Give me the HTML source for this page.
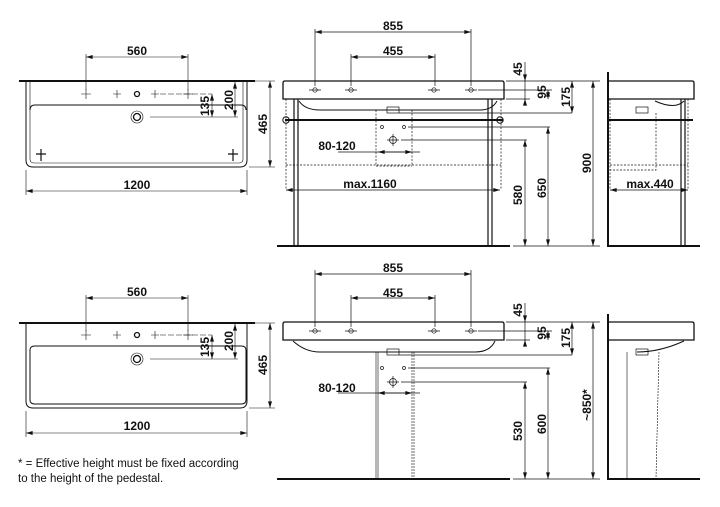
<!DOCTYPE html>
<html><head><meta charset="utf-8"><style>
html,body{margin:0;padding:0;background:#fff;}
svg{display:block;}
text{font-family:"Liberation Sans Narrow","Liberation Sans",sans-serif;font-weight:bold;font-size:12px;fill:#111;}
.t{font-family:"Liberation Sans",sans-serif;font-weight:normal;font-size:11.5px;}
</style></head><body>
<svg width="720" height="507" viewBox="0 0 720 507" xmlns="http://www.w3.org/2000/svg">
<defs>
<marker id="a" viewBox="0 0 10 6" refX="10" refY="3" markerWidth="8" markerHeight="4" orient="auto-start-reverse" markerUnits="userSpaceOnUse"><path d="M0,0L10,3L0,6z" fill="#111"/></marker>
</defs>
<g fill="none" stroke="#111" stroke-width="1">
<line x1="19" y1="81" x2="255" y2="81" stroke-width="2"/>
<path d="M26,82V160Q26,167 33,167H240Q247,167 247,160V82"/>
<path d="M30,82V159Q30,163 34,163H239Q243,163 243,159V82" stroke-width="0.6"/>
<path d="M30,110Q30,105 35,105H241Q246,105 246,110"/>
<g stroke-width="0.6"><path d="M81,94h10M86,89v10M113,94h8M117,90v8M151,94h8M155,90v8M183,94h10M188,89v10"/><line x1="160" y1="94" x2="212" y2="94" stroke-dasharray="6,2"/></g>
<circle cx="137" cy="94" r="2.5" stroke-width="1.3"/>
<circle cx="137" cy="117" r="6" stroke-width="0.6"/><circle cx="137" cy="117" r="3.5" stroke-width="1.3"/>
<line x1="150" y1="117" x2="238" y2="117" stroke-width="0.6"/>
<path d="M36,154h10M41,149v12M228,154h10M233,149v12" stroke-width="1.2"/>
<g stroke-width="0.6">
<line x1="86" y1="54" x2="86" y2="90"/><line x1="188" y1="54" x2="188" y2="90"/>
<line x1="86" y1="57" x2="188" y2="57" marker-start="url(#a)" marker-end="url(#a)"/>
<line x1="212" y1="94" x2="212" y2="117" marker-start="url(#a)" marker-end="url(#a)"/>
<line x1="235" y1="82" x2="235" y2="117" marker-start="url(#a)" marker-end="url(#a)"/>
<line x1="249" y1="81" x2="275" y2="81"/><line x1="249" y1="167" x2="275" y2="167"/>
<line x1="270" y1="81" x2="270" y2="167" marker-start="url(#a)" marker-end="url(#a)"/>
<line x1="26" y1="170" x2="26" y2="195"/><line x1="247" y1="170" x2="247" y2="195"/>
<line x1="26" y1="191" x2="247" y2="191" marker-start="url(#a)" marker-end="url(#a)"/>
</g>

<line x1="19" y1="323" x2="255" y2="323" stroke-width="2"/>
<path d="M26,324V401Q26,408 33,408H240Q247,408 247,401V324"/>
<path d="M30,350Q30,346 35,346H241Q246,346 246,350V400Q246,404 241,404H35Q30,404 30,400Z"/>
<g stroke-width="0.6"><path d="M81,335h10M86,330v10M113,335h8M117,331v8M151,335h8M155,331v8M183,335h10M188,330v10"/><line x1="160" y1="335" x2="212" y2="335" stroke-dasharray="6,2"/></g>
<circle cx="137" cy="335" r="2.5" stroke-width="1.3"/>
<circle cx="137" cy="359" r="6" stroke-width="0.6"/><circle cx="137" cy="359" r="3.5" stroke-width="1.3"/>
<line x1="150" y1="359" x2="238" y2="359" stroke-width="0.6"/>
<g stroke-width="0.6">
<line x1="86" y1="295" x2="86" y2="331"/><line x1="188" y1="295" x2="188" y2="331"/>
<line x1="86" y1="298" x2="188" y2="298" marker-start="url(#a)" marker-end="url(#a)"/>
<line x1="212" y1="335" x2="212" y2="359" marker-start="url(#a)" marker-end="url(#a)"/>
<line x1="235" y1="324" x2="235" y2="359" marker-start="url(#a)" marker-end="url(#a)"/>
<line x1="249" y1="323" x2="275" y2="323"/><line x1="249" y1="408" x2="275" y2="408"/>
<line x1="270" y1="323" x2="270" y2="408" marker-start="url(#a)" marker-end="url(#a)"/>
<line x1="26" y1="411" x2="26" y2="437"/><line x1="247" y1="411" x2="247" y2="437"/>
<line x1="26" y1="433" x2="247" y2="433" marker-start="url(#a)" marker-end="url(#a)"/>
</g>

<path d="M285,81H502Q504,81 504,83V99H283V83Q283,81 285,81Z" stroke-width="1.3"/>
<path d="M299,101Q305,110 320,110H480Q492,110 497,101"/>
<g stroke-width="0.7">
<circle cx="315" cy="90" r="2.2"/><circle cx="351" cy="90" r="2.2"/><circle cx="434" cy="90" r="2.2"/><circle cx="471" cy="90" r="2.2"/>
<path d="M309,90h12M345,90h12M428,90h12M465,90h12"/>
<line x1="478" y1="90" x2="552" y2="90"/>
<line x1="315" y1="29" x2="315" y2="86"/><line x1="471" y1="29" x2="471" y2="86"/>
<line x1="315" y1="32" x2="471" y2="32" marker-start="url(#a)" marker-end="url(#a)"/>
<line x1="351" y1="54" x2="351" y2="86"/><line x1="435" y1="54" x2="435" y2="86"/>
<line x1="351" y1="57" x2="435" y2="57" marker-start="url(#a)" marker-end="url(#a)"/>
<path d="M286,99V190M501,99V190M286,165H501M376,110V166M412,110V166M376,166H412" stroke-dasharray="2,1.5"/>
<rect x="387" y="107" width="12" height="6"/>
<line x1="399" y1="113" x2="572" y2="113"/>
<circle cx="382" cy="127" r="1.5"/><circle cx="404" cy="127" r="1.5"/>
<line x1="408" y1="127" x2="550" y2="127"/>
<circle cx="393" cy="140" r="3.5"/><path d="M387,140h12M393,134v12"/>
<line x1="401" y1="140" x2="527" y2="140"/>
<line x1="338" y1="152" x2="420" y2="152"/><line x1="378" y1="152" x2="412" y2="152" marker-start="url(#a)" marker-end="url(#a)"/>
<line x1="286" y1="190" x2="500" y2="190" marker-start="url(#a)" marker-end="url(#a)"/>
</g>
<line x1="285" y1="120" x2="503" y2="120" stroke-width="2"/>
<circle cx="286" cy="120" r="3.2"/><circle cx="500" cy="120" r="3.2"/>
<path d="M294,99V245M298,99V245M488,99V245M492,99V245" stroke-width="1.2"/>
<line x1="277" y1="246" x2="510" y2="246" stroke-width="2"/>
<g stroke-width="0.7">
<line x1="506" y1="81" x2="600" y2="81"/><line x1="506" y1="99" x2="530" y2="99"/>
<line x1="525" y1="62" x2="525" y2="81" marker-end="url(#a)"/><line x1="525" y1="104" x2="525" y2="99" marker-end="url(#a)"/>
<line x1="525" y1="81" x2="525" y2="99"/>
<line x1="548" y1="90" x2="548" y2="99" marker-start="url(#a)" marker-end="url(#a)"/>
<line x1="572" y1="81" x2="572" y2="113" marker-start="url(#a)" marker-end="url(#a)"/>
<line x1="525" y1="140" x2="525" y2="246" marker-start="url(#a)" marker-end="url(#a)"/>
<line x1="548" y1="127" x2="548" y2="246" marker-start="url(#a)" marker-end="url(#a)"/>
<line x1="593" y1="81" x2="593" y2="246" marker-start="url(#a)" marker-end="url(#a)"/>
<line x1="513" y1="246" x2="600" y2="246"/>
</g>
<line x1="608" y1="72" x2="608" y2="246" stroke-width="2"/>
<line x1="607" y1="246" x2="700" y2="246" stroke-width="2"/>
<path d="M608,81H692Q694,81 694,83V99H608" stroke-width="1.3"/>
<path d="M655,101Q675,110 684,101"/><rect x="636" y="107" width="12" height="6" stroke-width="0.7"/>
<line x1="608" y1="120" x2="693" y2="120" stroke-width="2"/>
<path d="M681,99V245M685,99V245" stroke-width="1.2"/>
<g stroke-width="0.7"><path d="M610,99V190M688,99V190M610,165H688M656,113V170H610" stroke-dasharray="2,1.5"/>
<line x1="610" y1="190" x2="688" y2="190" marker-start="url(#a)" marker-end="url(#a)"/></g>

<path d="M285,322H502Q504,322 504,324V340H283V324Q283,322 285,322Z" stroke-width="1.3"/>
<path d="M293,341Q305,352 320,352H475Q490,352 495,341"/>
<g stroke-width="0.7">
<circle cx="315" cy="331" r="2.2"/><circle cx="351" cy="331" r="2.2"/><circle cx="434" cy="331" r="2.2"/><circle cx="471" cy="331" r="2.2"/>
<path d="M309,331h12M345,331h12M428,331h12M465,331h12"/>
<line x1="478" y1="331" x2="552" y2="331"/>
<line x1="315" y1="270" x2="315" y2="327"/><line x1="471" y1="270" x2="471" y2="327"/>
<line x1="315" y1="274" x2="471" y2="274" marker-start="url(#a)" marker-end="url(#a)"/>
<line x1="351" y1="295" x2="351" y2="327"/><line x1="435" y1="295" x2="435" y2="327"/>
<line x1="351" y1="298" x2="435" y2="298" marker-start="url(#a)" marker-end="url(#a)"/>
<rect x="387" y="349" width="12" height="6"/>
<line x1="399" y1="355" x2="572" y2="355"/>
<path d="M376,352V478M378,352V478" stroke-width="0.6"/>
<path d="M412,352V478M414,352V478" stroke-width="0.6" stroke-dasharray="2,1"/>
<circle cx="382" cy="368" r="1.5"/><circle cx="404" cy="368" r="1.5"/>
<line x1="408" y1="368" x2="550" y2="368"/>
<circle cx="393" cy="382" r="3.5"/><path d="M387,382h12M393,376v12"/>
<line x1="401" y1="382" x2="527" y2="382"/>
<line x1="338" y1="393" x2="420" y2="393"/><line x1="378" y1="393" x2="412" y2="393" marker-start="url(#a)" marker-end="url(#a)"/>
</g>
<line x1="277" y1="479" x2="510" y2="479" stroke-width="2"/>
<g stroke-width="0.7">
<line x1="506" y1="322" x2="600" y2="322"/><line x1="506" y1="340" x2="530" y2="340"/>
<line x1="525" y1="303" x2="525" y2="322" marker-end="url(#a)"/><line x1="525" y1="345" x2="525" y2="340" marker-end="url(#a)"/>
<line x1="525" y1="322" x2="525" y2="340"/>
<line x1="548" y1="331" x2="548" y2="340" marker-start="url(#a)" marker-end="url(#a)"/>
<line x1="572" y1="322" x2="572" y2="355" marker-start="url(#a)" marker-end="url(#a)"/>
<line x1="525" y1="382" x2="525" y2="479" marker-start="url(#a)" marker-end="url(#a)"/>
<line x1="548" y1="368" x2="548" y2="479" marker-start="url(#a)" marker-end="url(#a)"/>
<line x1="593" y1="322" x2="593" y2="479" marker-start="url(#a)" marker-end="url(#a)"/>
<line x1="513" y1="479" x2="600" y2="479"/>
</g>
<line x1="608" y1="314" x2="608" y2="479" stroke-width="2"/>
<line x1="607" y1="479" x2="700" y2="479" stroke-width="2"/>
<path d="M608,322H692Q694,322 694,324V340H608" stroke-width="1.3"/>
<path d="M637,352Q660,352 684,341"/><rect x="636" y="349" width="12" height="6" stroke-width="0.7"/>
<path d="M627,352V478" stroke-width="0.6"/>
<path d="M659,352L656,478" stroke-width="0.6" stroke-dasharray="2,1"/>
</g>

<text x="137" y="55" text-anchor="middle">560</text>
<text x="137" y="189" text-anchor="middle">1200</text>
<text transform="translate(209,106) rotate(-90)" text-anchor="middle">135</text>
<text transform="translate(233,100) rotate(-90)" text-anchor="middle">200</text>
<text transform="translate(267,124) rotate(-90)" text-anchor="middle">465</text>

<text x="137" y="296" text-anchor="middle">560</text>
<text x="137" y="430" text-anchor="middle">1200</text>
<text transform="translate(209,347) rotate(-90)" text-anchor="middle">135</text>
<text transform="translate(233,341) rotate(-90)" text-anchor="middle">200</text>
<text transform="translate(267,365) rotate(-90)" text-anchor="middle">465</text>
<text class="t" x="18" y="467">* = Effective height must be fixed according</text>
<text class="t" x="18" y="482">to the height of the pedestal.</text>

<text x="393" y="30" text-anchor="middle">855</text>
<text x="393" y="55" text-anchor="middle">455</text>
<text x="337" y="150" text-anchor="middle">80-120</text>
<text x="370" y="188" text-anchor="middle">max.1160</text>
<text x="650" y="188" text-anchor="middle">max.440</text>
<text transform="translate(522,69) rotate(-90)" text-anchor="middle">45</text>
<text transform="translate(546,92) rotate(-90)" text-anchor="middle">95</text>
<text transform="translate(570,97) rotate(-90)" text-anchor="middle">175</text>
<text transform="translate(522,195) rotate(-90)" text-anchor="middle">580</text>
<text transform="translate(546,188) rotate(-90)" text-anchor="middle">650</text>
<text transform="translate(591,163) rotate(-90)" text-anchor="middle">900</text>

<text x="393" y="272" text-anchor="middle">855</text>
<text x="393" y="297" text-anchor="middle">455</text>
<text x="337" y="392" text-anchor="middle">80-120</text>
<text transform="translate(522,310) rotate(-90)" text-anchor="middle">45</text>
<text transform="translate(546,333) rotate(-90)" text-anchor="middle">95</text>
<text transform="translate(570,338) rotate(-90)" text-anchor="middle">175</text>
<text transform="translate(522,431) rotate(-90)" text-anchor="middle">530</text>
<text transform="translate(546,424) rotate(-90)" text-anchor="middle">600</text>
<text transform="translate(591,405) rotate(-90)" text-anchor="middle">~850*</text>
</svg>
</body></html>
